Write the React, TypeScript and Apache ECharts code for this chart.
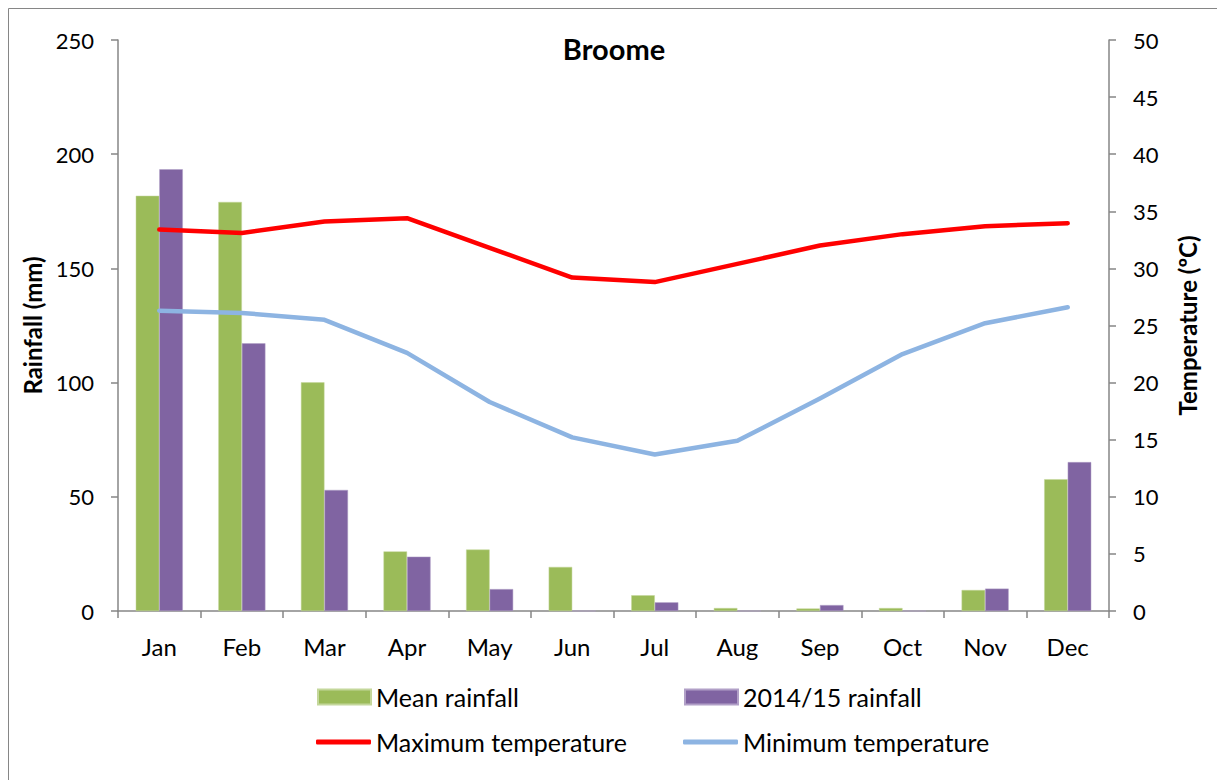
import React, { useEffect, useRef } from "react";
import * as echarts from "echarts";

const months = ["Jan", "Feb", "Mar", "Apr", "May", "Jun", "Jul", "Aug", "Sep", "Oct", "Nov", "Dec"];
const meanRainfall = [181.8, 179.1, 100.1, 26.1, 26.9, 19.3, 6.9, 1.3, 1.1, 1.3, 9.2, 57.7];
const rainfall2014 = [193.4, 117.2, 53.0, 23.8, 9.6, 0, 3.8, 0, 2.6, 0, 9.8, 65.2];
const maxTemp = [33.4, 33.1, 34.1, 34.4, 31.8, 29.2, 28.8, 30.4, 32.0, 33.0, 33.7, 33.95];
const minTemp = [26.3, 26.1, 25.5, 22.6, 18.3, 15.2, 13.7, 14.9, 18.6, 22.5, 25.2, 26.6];

const FONT = "Lato, 'Open Sans', sans-serif";
const AXIS = "#868686";

export default function App() {
  const ref = useRef<HTMLDivElement>(null);
  useEffect(() => {
    if (!ref.current) return;
    const chart = echarts.init(ref.current, undefined, { renderer: "svg" });
    const legendText = { fontFamily: FONT, fontSize: 25, lineHeight: 26, color: "#000" };
    const legendBase = { itemGap: 0, padding: 0, selectedMode: false, textStyle: legendText };
    chart.setOption({
      animation: false,
      textStyle: { fontFamily: FONT },
      graphic: [
        { type: "line", shape: { x1: 8.5, y1: 8.5, x2: 1217, y2: 8.5 }, style: { stroke: AXIS, lineWidth: 1 } },
        { type: "line", shape: { x1: 8.5, y1: 8.5, x2: 8.5, y2: 780 }, style: { stroke: AXIS, lineWidth: 1 } },
        {
          type: "text",
          x: 614,
          y: 48,
          style: { text: "Broome", fontFamily: FONT, fontSize: 29, fontWeight: "bold", fill: "#000", align: "center", verticalAlign: "middle" },
        },
      ],
      legend: [
        { ...legendBase, data: ["Mean rainfall"], left: 317, top: 684, itemWidth: 53, itemHeight: 15, icon: "rect" },
        { ...legendBase, data: ["2014/15 rainfall"], left: 684, top: 684, itemWidth: 53, itemHeight: 15, icon: "rect" },
        { ...legendBase, data: ["Maximum temperature"], left: 316, top: 729, itemWidth: 55, itemHeight: 5, icon: "roundRect" },
        { ...legendBase, data: ["Minimum temperature"], left: 683, top: 729, itemWidth: 55, itemHeight: 5, icon: "roundRect" },
      ],
      grid: { left: 118, right: 108, top: 40, bottom: 169, containLabel: false },
      xAxis: {
        type: "category",
        data: months,
        boundaryGap: true,
        axisLine: { show: true, lineStyle: { color: AXIS, width: 1.5 } },
        axisTick: { show: true, alignWithLabel: false, interval: 0, length: 7, lineStyle: { color: AXIS, width: 1.5 } },
        axisLabel: { interval: 0, margin: 23, fontFamily: FONT, fontSize: 24, color: "#000" },
      },
      yAxis: [
        {
          type: "value",
          min: 0,
          max: 250,
          interval: 50,
          position: "left",
          name: "Rainfall (mm)",
          nameLocation: "middle",
          nameRotate: 90,
          nameGap: 74,
          nameTextStyle: { fontFamily: FONT, fontSize: 24, fontWeight: "bold", color: "#000" },
          axisLine: { show: true, lineStyle: { color: AXIS, width: 1.5 } },
          axisTick: { show: true, length: 7, lineStyle: { color: AXIS, width: 1.5 } },
          axisLabel: { margin: 24, fontFamily: FONT, fontSize: 22, color: "#000" },
          splitLine: { show: false },
        },
        {
          type: "value",
          min: 0,
          max: 50,
          interval: 5,
          position: "right",
          name: "Temperature (ºC)",
          nameLocation: "middle",
          nameRotate: 90,
          nameGap: 66,
          nameTextStyle: { fontFamily: FONT, fontSize: 24, fontWeight: "bold", color: "#000" },
          axisLine: { show: true, lineStyle: { color: AXIS, width: 1.5 } },
          axisTick: { show: true, length: 7, lineStyle: { color: AXIS, width: 1.5 } },
          axisLabel: { margin: 24, fontFamily: FONT, fontSize: 22, color: "#000" },
          splitLine: { show: false },
        },
      ],
      series: [
        {
          name: "Mean rainfall",
          type: "bar",
          yAxisIndex: 0,
          data: meanRainfall,
          barGap: "0%",
          barCategoryGap: "43%",
          itemStyle: { color: "#9BBB59", borderColor: "#C4D79B", borderWidth: 0.5 },
        },
        {
          name: "2014/15 rainfall",
          type: "bar",
          yAxisIndex: 0,
          data: rainfall2014,
          barGap: "0%",
          barCategoryGap: "43%",
          itemStyle: { color: "#8064A2", borderColor: "#B1A0C7", borderWidth: 0.5 },
        },
        {
          name: "Maximum temperature",
          type: "line",
          yAxisIndex: 1,
          data: maxTemp,
          symbol: "none",
          lineStyle: { color: "#FF0000", width: 4.5, cap: "round", join: "round" },
          itemStyle: { color: "#FF0000" },
        },
        {
          name: "Minimum temperature",
          type: "line",
          yAxisIndex: 1,
          data: minTemp,
          symbol: "none",
          lineStyle: { color: "#8DB4E2", width: 4.5, cap: "round", join: "round" },
          itemStyle: { color: "#8DB4E2" },
        },
      ],
    });
    return () => chart.dispose();
  }, []);
  return <div ref={ref} style={{ position: "fixed", left: 0, top: 0, width: 1217, height: 780, background: "#fff" }} />;
}
